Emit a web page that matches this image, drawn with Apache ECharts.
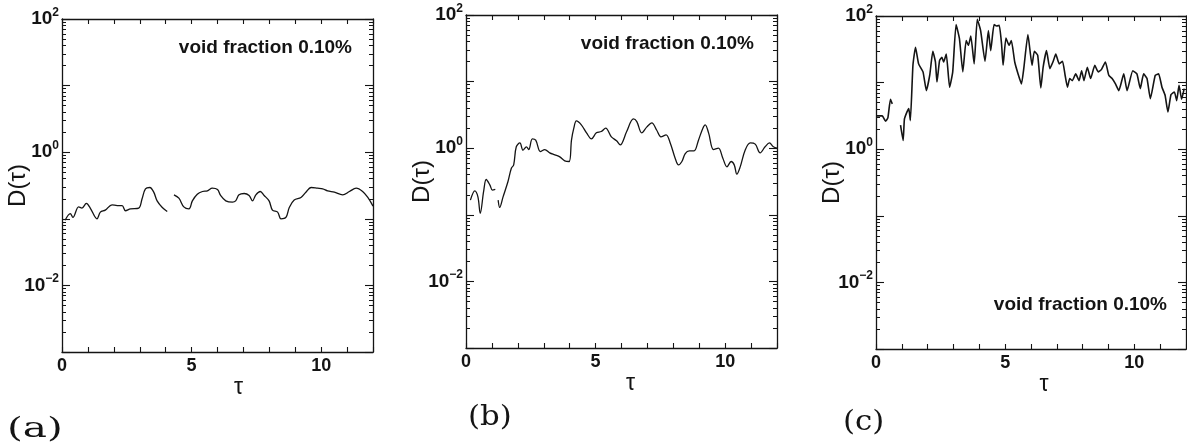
<!DOCTYPE html>
<html><head><meta charset="utf-8">
<script src="https://cdn.jsdelivr.net/npm/echarts@6/dist/echarts.min.js"></script>
<style>html,body{margin:0;padding:0;background:#fff}#c{width:1187px;height:445px}</style>
</head><body><div id="c"></div>
<script>
// ---- data ----
const tauA = [0.12,0.32,0.42,0.64,0.77,0.94,1.09,1.35,1.48,1.67,1.93,2.13,2.32,2.45,2.64,2.96,3.09,3.22,3.39,3.54,3.67,3.87,4.06,4.2,4.32,4.51,4.70,4.90,5.03,5.22,5.42,5.61,5.80,6.00,6.12,6.32,6.58,6.70,6.83,7.03,7.22,7.35,7.48,7.65,7.80,7.99,8.12,8.32,8.45,8.64,8.77,8.96,9.22,9.41,9.61,9.86,10.06,10.25,10.51,10.83,11.09,11.35,11.6,11.8,12.0];
const dA   = [0.095,0.120,0.105,0.151,0.145,0.170,0.145,0.100,0.126,0.135,0.162,0.158,0.158,0.132,0.141,0.145,0.200,0.282,0.295,0.251,0.186,0.148,0.129,null,0.229,0.204,0.151,0.141,0.186,0.234,0.257,0.263,0.288,0.275,0.224,0.186,0.178,0.186,0.229,0.240,0.224,0.186,0.229,0.257,0.224,0.186,0.135,0.126,0.100,0.105,0.148,0.191,0.209,0.251,0.295,0.288,0.282,0.263,0.251,0.229,0.257,0.288,0.257,0.209,0.155];

const tauB = [0.17,0.34,0.46,0.55,0.68,0.78,0.92,1.02,1.13,1.19,1.24,1.30,1.43,1.62,1.75,1.84,1.94,2.08,2.20,2.33,2.42,2.56,2.69,2.87,3.04,3.23,3.43,3.62,3.81,3.98,4.07,4.16,4.26,4.45,4.65,4.84,5.03,5.22,5.39,5.61,5.81,5.95,6.20,6.46,6.59,6.78,6.98,7.17,7.36,7.52,7.72,7.88,8.07,8.20,8.33,8.46,8.62,8.80,8.97,9.14,9.23,9.36,9.55,9.74,9.91,10.07,10.23,10.35,10.45,10.58,10.77,10.97,11.16,11.35,11.54,11.71,11.86,12.0];
const dB   = [0.166,0.229,0.186,0.105,0.224,0.339,0.282,0.234,0.240,null,0.166,0.129,0.186,0.316,0.501,0.562,1.05,1.20,0.933,1.05,0.955,1.38,1.32,0.891,0.955,0.851,0.794,0.741,0.646,0.631,1.32,2.00,2.57,2.24,1.70,1.38,1.70,1.78,2.00,1.48,1.29,1.12,1.78,2.75,2.51,1.70,2.09,2.40,1.86,1.48,1.58,1.20,0.708,0.562,0.631,0.832,0.912,0.912,1.32,2.00,2.24,1.70,0.955,1.00,0.708,0.525,0.631,0.562,0.407,0.525,0.933,1.20,1.15,0.851,1.05,1.20,1.05,1.00];

const tauC = [0.0,0.24,0.37,0.46,0.56,0.63,0.8,0.95,1.05,1.10,1.20,1.27,1.33,1.43,1.53,1.65,1.82,1.95,2.08,2.20,2.30,2.36,2.46,2.55,2.62,2.72,2.85,2.97,3.10,3.23,3.36,3.49,3.58,3.67,3.80,3.92,4.05,4.22,4.35,4.44,4.57,4.67,4.77,4.86,4.92,5.03,5.15,5.24,5.37,5.50,5.63,5.72,5.88,6.04,6.13,6.26,6.38,6.47,6.60,6.73,6.86,6.96,7.09,7.22,7.32,7.41,7.50,7.60,7.73,7.86,7.96,8.05,8.18,8.31,8.47,8.60,8.73,8.88,9.01,9.14,9.27,9.40,9.59,9.72,9.94,10.10,10.23,10.36,10.49,10.62,10.81,10.94,11.07,11.19,11.30,11.42,11.55,11.64,11.73,11.83,11.93];
const dC   = [3.16,3.16,2.63,2.95,5.62,4.79,null,2.29,1.35,2.82,3.63,4.07,2.69,18.2,33.9,19.1,14.5,7.59,12.9,29.5,20.4,10.2,21.4,24.0,20.4,26.9,8.51,14.5,74.1,45.7,14.5,42.7,36.3,50.1,19.1,89.1,60.3,20.9,60.3,30.2,74.1,70.8,72.4,38.0,18.2,46.8,36.3,42.7,20.4,13.5,9.55,16.2,52.5,18.2,29.5,25.7,8.32,17.0,30.2,16.2,20.9,26.9,19.1,20.9,12.9,8.51,11.5,10.7,13.5,10.7,15.1,10.7,17.0,11.5,18.2,14.5,15.8,20.4,12.9,11.5,9.55,7.59,13.5,7.59,15.1,13.5,8.13,13.5,11.5,5.75,12.9,13.5,8.51,6.46,3.63,6.61,7.24,5.37,9.12,5.62,8.13];

const xLabelValues = [0, 5, 10];
const yLabelExponents = [2, 0, -2];
const decades = [-3, -2, -1, 0, 1];
const minorMantissas = [2, 3, 4, 5, 6, 7, 8, 9];
const panelLetters = ['(a)', '(b)', '(c)'];
const annotation = 'void fraction 0.10%';

// ---- chart ----
const F = '"Liberation Sans", Arial, sans-serif';
const INK = '#141414';
const minorLogs = [];
decades.forEach(d => minorMantissas.forEach(m => minorLogs.push(d + Math.log10(m))));

const grids = [
  {left: 62, top: 19, width: 311, height: 333, nameShift: 21},
  {left: 466, top: 15, width: 311, height: 333, nameShift: 9},
  {left: 876, top: 16, width: 310, height: 333, nameShift: 13}
];
const series = [[tauA, dA], [tauB, dB], [tauC, dC]];

const lineSt = {color: INK, width: 1.3};
const xAxis = [], yAxis = [], seriesOpt = [];
grids.forEach((g, i) => {
  const common = {gridIndex: i, type: 'value', min: 0, max: 12, interval: 1, splitLine: {show: false}};
  xAxis.push(Object.assign({}, common, {
    position: 'bottom',
    axisLine: {show: true, onZero: false, lineStyle: lineSt},
    axisTick: {show: true, inside: true, length: 5, lineStyle: {color: INK, width: 1.1}},
    axisLabel: {show: true, margin: 5, color: INK, fontFamily: F, fontSize: 18, fontWeight: 'bold',
      showMinLabel: true, showMaxLabel: true,
      formatter: v => xLabelValues.indexOf(v) >= 0 ? String(v) : ''},
    name: 'τ', nameLocation: 'middle', nameGap: 24, nameMoveOverlap: false,
    nameTextStyle: {color: INK, fontFamily: F, fontSize: 23, padding: [0, 0, 0, g.nameShift * 2]}
  }));
  xAxis.push(Object.assign({}, common, {
    position: 'top',
    axisLine: {show: true, onZero: false, lineStyle: lineSt},
    axisTick: {show: true, inside: true, length: 5, lineStyle: {color: INK, width: 1.1}},
    axisLabel: {show: false}
  }));
  const logCommon = {gridIndex: i, type: 'log', logBase: 10, min: 0.001, max: 100, splitLine: {show: false}};
  yAxis.push(Object.assign({}, logCommon, {
    position: 'left',
    axisLine: {show: true, onZero: false, lineStyle: lineSt},
    axisTick: {show: true, inside: true, length: 8, lineStyle: {color: INK, width: 1.1}},
    axisLabel: {show: true, margin: 3, color: INK,
      formatter: v => {
        const e = Math.round(Math.log10(v));
        if (yLabelExponents.indexOf(e) < 0) return '';
        return '{b|10}{s|' + (e < 0 ? '\u2212' + (-e) : e) + '}';
      },
      rich: {
        b: {fontFamily: F, fontSize: 19, fontWeight: 'bold', color: INK, lineHeight: 25},
        s: {fontFamily: F, fontSize: 12, fontWeight: 'bold', color: INK, verticalAlign: 'top', lineHeight: 12}
      }},
    name: 'D(τ)', nameLocation: 'middle', nameGap: 32, nameMoveOverlap: false,
    nameTextStyle: {color: INK, fontFamily: F, fontSize: 24}
  }));
  const minorCommon = {gridIndex: i, type: 'value', min: -3, max: 2, splitLine: {show: false},
    axisLine: {show: false, onZero: false}, axisLabel: {show: false},
    axisTick: {show: true, inside: true, length: 4, customValues: minorLogs, lineStyle: {color: INK, width: 1}}};
  yAxis.push(Object.assign({}, minorCommon, {position: 'left'}));
  yAxis.push(Object.assign({}, logCommon, {
    position: 'right',
    axisLine: {show: true, onZero: false, lineStyle: lineSt},
    axisTick: {show: true, inside: true, length: 8, lineStyle: {color: INK, width: 1.1}},
    axisLabel: {show: false}
  }));
  yAxis.push(Object.assign({}, minorCommon, {position: 'right'}));

  const [tx, dy] = series[i];
  seriesOpt.push({
    type: 'line', xAxisIndex: i * 2, yAxisIndex: i * 4,
    data: tx.map((t, k) => [t, dy[k] === null ? '-' : dy[k]]),
    showSymbol: false, symbol: 'none', smooth: i === 2 ? 0.15 : 0.35, connectNulls: false,
    lineStyle: {color: INK, width: i === 2 ? 1.6 : 1.3}, silent: true, animation: false
  });
});

function txt(x, y, text, font, align, extra) {
  return Object.assign({type: 'text', x: x, y: y, silent: true,
    style: {text: text, font: font, fill: INK, align: align, textAlign: align,
            verticalAlign: 'middle', textVerticalAlign: 'middle'}}, extra || {});
}
const annFont = 'bold 19px ' + F;
const panelFont = '28px "DejaVu Serif", "Liberation Serif", serif';
const graphic = [
  txt(352, 48, annotation, annFont, 'right'),
  txt(754, 44, annotation, annFont, 'right'),
  txt(1167, 305, annotation, annFont, 'right'),
  txt(7, 430, panelLetters[0], panelFont, 'left', {scaleX: 1.45}),
  txt(468, 418, panelLetters[1], panelFont, 'left', {scaleX: 1.1}),
  txt(843, 423, panelLetters[2], panelFont, 'left', {scaleX: 1.1})
];

const chart = echarts.init(document.getElementById('c'), null, {renderer: 'canvas'});
chart.setOption({
  animation: false,
  backgroundColor: '#fff',
  grid: grids.map(g => ({left: g.left, top: g.top, width: g.width, height: g.height, containLabel: false, outerBoundsMode: 'none'})),
  xAxis: xAxis, yAxis: yAxis, series: seriesOpt, graphic: graphic
});
</script></body></html>
